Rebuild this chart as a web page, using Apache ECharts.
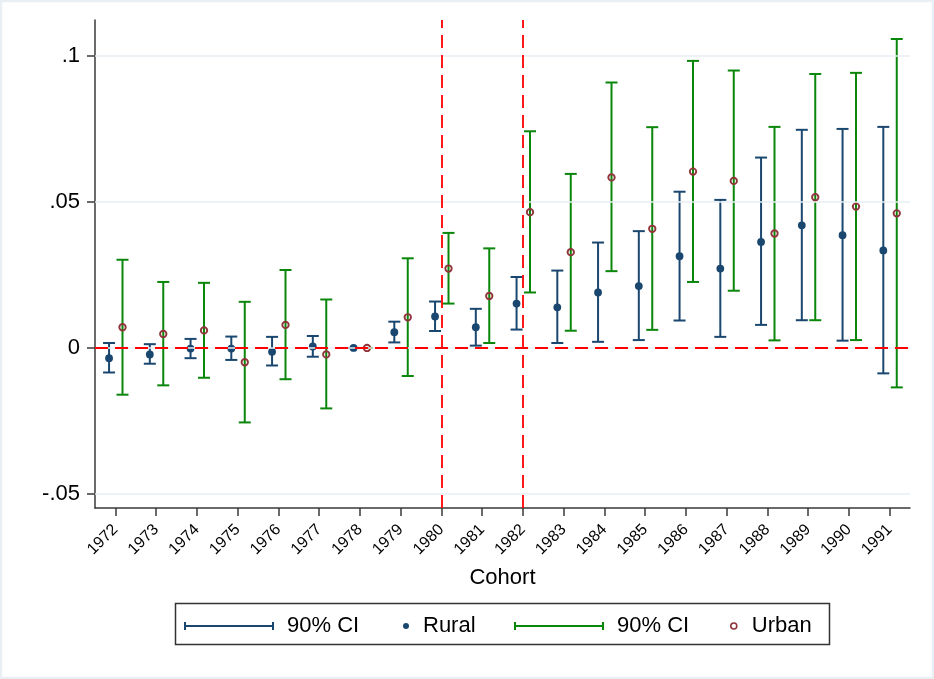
<!DOCTYPE html>
<html>
<head>
<meta charset="utf-8">
<script src="https://cdn.jsdelivr.net/npm/echarts@6/dist/echarts.min.js"></script>
<style>
html, body { margin: 0; padding: 0; background: #ffffff; }
#chart { width: 934px; height: 679px; }
</style>
</head>
<body>
<div id="chart"></div>
<script>
// ---- data ----
const years = ['1972','1973','1974','1975','1976','1977','1978','1979','1980','1981',
               '1982','1983','1984','1985','1986','1987','1988','1989','1990','1991'];

const ruralCoef = [-0.0035, -0.0022, -0.0002, -0.0002, -0.0013, 0.0005, 0.0000, 0.0054, 0.0108, 0.0071,
                    0.0152, 0.0139, 0.0190, 0.0212, 0.0314, 0.0272, 0.0363, 0.0420, 0.0386, 0.0334];
const ruralLo   = [-0.0084, -0.0054, -0.0035, -0.0041, -0.0060, -0.0030, 0.0000, 0.0019, 0.0058, 0.0008,
                    0.0063, 0.0017, 0.0021, 0.0027, 0.0094, 0.0038, 0.0079, 0.0095, 0.0025, -0.0087];
const ruralHi   = [ 0.0017, 0.0013, 0.0031, 0.0039, 0.0038, 0.0041, 0.0000, 0.0090, 0.0159, 0.0134,
                    0.0243, 0.0265, 0.0361, 0.0400, 0.0535, 0.0507, 0.0652, 0.0747, 0.0750, 0.0757];

const urbanCoef = [ 0.0071, 0.0048, 0.0060, -0.0049, 0.0079, -0.0022, 0.0000, 0.0105, 0.0272, 0.0178,
                    0.0465, 0.0328, 0.0584, 0.0408, 0.0604, 0.0572, 0.0392, 0.0516, 0.0484, 0.0461];
const urbanLo   = [-0.0160, -0.0128, -0.0102, -0.0255, -0.0107, -0.0207, 0.0000, -0.0096, 0.0152, 0.0017,
                    0.0190, 0.0059, 0.0263, 0.0062, 0.0226, 0.0196, 0.0026, 0.0095, 0.0027, -0.0135];
const urbanHi   = [ 0.0302, 0.0226, 0.0223, 0.0158, 0.0267, 0.0166, 0.0000, 0.0307, 0.0394, 0.0341,
                    0.0742, 0.0596, 0.0909, 0.0756, 0.0983, 0.0950, 0.0757, 0.0938, 0.0942, 0.1058];

const yTickValues = [-0.05, 0, 0.05, 0.1];
const yTickLabels = ['-.05', '0', '.05', '.1'];
const refYears = ['1980', '1982'];
const refY = [0];

const legendNames = { ciRural: '90% CI', Rural: 'Rural', ciUrban: '90% CI', Urban: 'Urban' };

// ---- styles ----
const NAVY = '#1a476f';
const GREEN = '#0a860a';
const MAROON = '#90353b';
const RED = '#ff0000';
const AXIS = '#3a3a3a';
const GRID = '#e6eef2';
const FONT = '"Liberation Sans", Arial, Helvetica, sans-serif';
const RURAL_OFF = -0.155;
const URBAN_OFF = 0.175;

function ciRenderer(off, color) {
  return function (params, api) {
    const i = api.value(0);
    const lo = api.coord([i, api.value(1)]);
    const hi = api.coord([i, api.value(2)]);
    const bw = api.size([1, 0])[0];
    const x = lo[0] + off * bw;
    const cap = 6;
    const st = { stroke: color, lineWidth: 2 };
    return {
      type: 'group',
      children: [
        { type: 'line', shape: { x1: x, y1: lo[1], x2: x, y2: hi[1] }, style: st },
        { type: 'line', shape: { x1: x - cap, y1: lo[1], x2: x + cap, y2: lo[1] }, style: st },
        { type: 'line', shape: { x1: x - cap, y1: hi[1], x2: x + cap, y2: hi[1] }, style: st }
      ]
    };
  };
}

function dotRenderer(off, hollow) {
  return function (params, api) {
    const i = api.value(0);
    const p = api.coord([i, api.value(1)]);
    const bw = api.size([1, 0])[0];
    const x = p[0] + off * bw;
    if (hollow) {
      return { type: 'circle', shape: { cx: x, cy: p[1], r: 3.2 },
               style: { fill: 'none', stroke: MAROON, lineWidth: 1.9 } };
    }
    return { type: 'circle', shape: { cx: x, cy: p[1], r: 3.9 }, style: { fill: NAVY } };
  };
}

const ciIcon = 'path://M0,0 L2,0 L2,3 L88,3 L88,0 L90,0 L90,8 L88,8 L88,5 L2,5 L2,8 L0,8 Z';

function makeLegend(name, left, icon, w, h, pad, itemStyle) {
  return {
    show: true,
    data: [{ name: name, icon: icon, itemStyle: itemStyle }],
    left: left,
    top: 615,
    padding: 0,
    itemWidth: w,
    itemHeight: h,
    selectedMode: false,
    formatter: function (n) { return legendNames[n]; },
    textStyle: { fontSize: 22, color: '#000', fontFamily: FONT, padding: [0, 0, 0, pad] }
  };
}

const chart = echarts.init(document.getElementById('chart'), null, { renderer: 'canvas' });

const option = {
  backgroundColor: '#ffffff',
  animation: false,
  textStyle: { fontFamily: FONT },
  grid: { left: 95, right: 24, top: 20, bottom: 171 },
  xAxis: {
    type: 'category',
    data: years,
    boundaryGap: true,
    name: 'Cohort',
    nameLocation: 'middle',
    nameGap: 59,
    nameTextStyle: { fontSize: 22, color: '#000', fontFamily: FONT },
    axisLine: { show: true, onZero: false, lineStyle: { color: AXIS, width: 1.5 } },
    axisTick: { show: true, alignWithLabel: true, length: 8, lineStyle: { color: AXIS, width: 1.5 } },
    axisLabel: { interval: 0, rotate: 45, fontSize: 16, color: '#000', margin: 19, fontFamily: FONT },
    splitLine: { show: false }
  },
  yAxis: {
    type: 'value',
    min: -0.0548,
    max: 0.1123,
    axisLine: { show: true, lineStyle: { color: AXIS, width: 1.5 } },
    axisTick: { show: true, length: 8, customValues: yTickValues, lineStyle: { color: AXIS, width: 1.5 } },
    axisLabel: {
      customValues: yTickValues,
      fontSize: 22, color: '#000', margin: 15, fontFamily: FONT,
      formatter: function (v) {
        for (let k = 0; k < yTickValues.length; k++) {
          if (Math.abs(yTickValues[k] - v) < 1e-9) return yTickLabels[k];
        }
        return '';
      }
    },
    splitLine: { show: false }
  },
  legend: [
    makeLegend('ciRural', 184, ciIcon, 90, 8, 8, { color: NAVY }),
    makeLegend('Rural', 403, 'circle', 6, 6, 9, { color: NAVY }),
    makeLegend('ciUrban', 514, ciIcon, 90, 8, 8, { color: GREEN }),
    makeLegend('Urban', 730, 'circle', 6, 6, 10, { color: '#ffffff', borderColor: MAROON, borderWidth: 1.6 })
  ],
  graphic: [
    { type: 'rect', z: -10, silent: true,
      shape: { x: 1, y: 1, width: 932, height: 677 },
      style: { fill: 'none', stroke: '#e9eff2', lineWidth: 2.5 } },
    { type: 'rect', z: 5, silent: true,
      shape: { x: 175.5, y: 603.5, width: 654, height: 41 },
      style: { fill: 'none', stroke: '#333333', lineWidth: 1.5 } }
  ],
  series: [
    {
      type: 'line', name: 'gridlines', data: [], z: 0, silent: true,
      markLine: {
        silent: true, symbol: ['none', 'none'], label: { show: false },
        lineStyle: { color: GRID, width: 1.5, type: 'solid' },
        data: yTickValues.map(v => ({ yAxis: v }))
      }
    },
    {
      type: 'line', name: 'reflines', data: [], z: 1, silent: true,
      markLine: {
        silent: true, symbol: ['none', 'none'], label: { show: false },
        lineStyle: { color: RED, width: 1.8, type: [13, 7] },
        data: refYears.map(y => ({ xAxis: y })).concat(refY.map(v => ({ yAxis: v })))
      }
    },
    {
      type: 'custom', name: 'ciRural', z: 3,
      itemStyle: { color: NAVY },
      encode: { x: 0, y: [1, 2] },
      data: years.map((y, i) => [i, ruralLo[i], ruralHi[i]]),
      renderItem: ciRenderer(RURAL_OFF, NAVY)
    },
    {
      type: 'custom', name: 'Rural', z: 4,
      itemStyle: { color: NAVY },
      encode: { x: 0, y: 1 },
      data: years.map((y, i) => [i, ruralCoef[i]]),
      renderItem: dotRenderer(RURAL_OFF, false)
    },
    {
      type: 'custom', name: 'ciUrban', z: 3,
      itemStyle: { color: GREEN },
      encode: { x: 0, y: [1, 2] },
      data: years.map((y, i) => [i, urbanLo[i], urbanHi[i]]),
      renderItem: ciRenderer(URBAN_OFF, GREEN)
    },
    {
      type: 'custom', name: 'Urban', z: 4,
      itemStyle: { color: MAROON },
      encode: { x: 0, y: 1 },
      data: years.map((y, i) => [i, urbanCoef[i]]),
      renderItem: dotRenderer(URBAN_OFF, true)
    }
  ]
};

chart.setOption(option);
</script>
</body>
</html>
